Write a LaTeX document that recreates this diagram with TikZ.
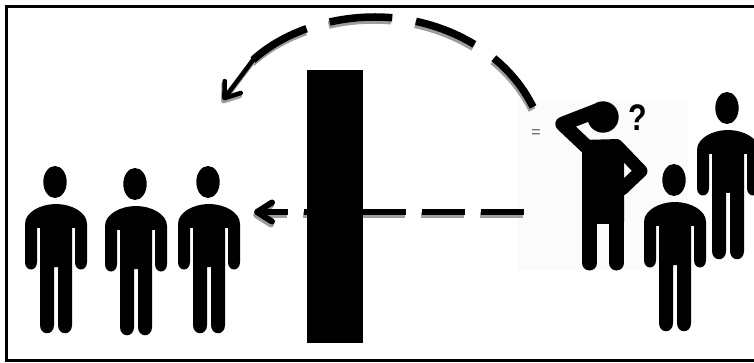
\documentclass[tikz,border=0pt]{standalone}
\usepackage{xcolor}
\usepackage{fontspec}
\setmainfont{Liberation Sans}
\usetikzlibrary{arrows.meta,positioning,calc}

\begin{document}
\begin{tikzpicture}[
  x=1pt, y=-1pt,
  frameline/.style={draw, line width=2.6pt},
  barrier/.style={draw=none, fill=black, minimum width=56pt, minimum height=273pt, inner sep=0pt},
  shadowed/.style={draw=black!38, transform canvas={xshift=-1pt, yshift=-3pt}},
  dashline/.style={line width=6pt, dash pattern=on 43pt off 16pt},
  arcline/.style={line width=7.5pt, dash pattern=on 63pt off 24pt},
  tipline/.style={line width=4.5pt, line cap=round,
    -{Straight Barb[length=14pt, width=20pt, round]}},
  tipline2/.style={line width=6pt,
    -{Straight Barb[length=15pt, width=19pt, round]}},
  limb/.style={line width=#1, line cap=round, line join=round},
  pics/person/.style={code={
    \fill (0,0) ellipse [x radius=11.7, y radius=16];
    \fill (-30,42) .. controls (-30,30) and (-14,22) .. (1,22)
      .. controls (16,22) and (32,30) .. (32,42) -- (32,80)
      .. controls (32,90) and (20,90) .. (20,80) -- (20,46) -- (17,46) -- (17,143)
      .. controls (17,154) and (3,154) .. (3,143) -- (3,85) -- (-1,85) -- (-1,143)
      .. controls (-1,154) and (-15,154) .. (-15,143) -- (-15,46) -- (-18,46) -- (-18,80)
      .. controls (-18,90) and (-30,90) .. (-30,80) -- cycle;
  }},
]
\useasboundingbox (0,0) rectangle (754,363);
\fill[white] (0,0) rectangle (754,363);

% figure that asks
\fill[black!1.5] (518,100) rectangle (688,270);
\fill (603,117) circle [radius=15.7];
\draw[limb=14.5pt] (596,111) -- (562.5,124) -- (588,148);
\fill[rounded corners=2pt] (582,140) -- (620,139) -- (624,150) -- (624,224) -- (582,224) -- cycle;
\draw[limb=13pt] (617,146) -- (641,171) -- (622,189);
\draw[limb=15pt] (589.5,220) -- (589.5,263);
\draw[limb=15pt] (616.5,220) -- (616.5,263);
\node[font=\fontsize{37}{37}\selectfont\bfseries, xscale=0.82, inner sep=0pt] (ask) at (637.5,118) {?};
\node[font=\fontsize{16}{16}\selectfont, text=black!65, inner sep=0pt] (eq) at (536,134) {=};

% the people
\pic (p1) at (55,182) {person};
\pic (p2) at (135,184) {person};
\pic (p3) at (208,182) {person};
\pic (p4) at (674,180) {person};
\pic (p5) at (727,108) {person};

\coordinate (lineR) at (523.5,212);
\coordinate (lineM) at (287,212);
\coordinate (lineL) at (254,212);
\coordinate (arcR) at (533,107);
\coordinate (arcM) at (375,17);
\coordinate (arcL) at (253,60);
\coordinate (arcT) at (223,100);

% grey copies first
\draw[dashline, shadowed] (lineR) -- (lineM);
\draw[tipline2, shadowed] (lineM) -- (lineL);
\draw[arcline, shadowed] (arcR) .. controls (505,50) and (440,17) .. (arcM)
  .. controls (325,17) and (280,35) .. (arcL);
\draw[tipline, shadowed] (arcL) -- (arcT);

\draw[dashline] (lineR) -- (lineM);
\draw[tipline2] (lineM) -- (lineL);
\draw[arcline] (arcR) .. controls (505,50) and (440,17) .. (arcM)
  .. controls (325,17) and (280,35) .. (arcL);
\draw[tipline] (arcL) -- (arcT);

\node[barrier] (wall) at (335,206.5) {};

\draw[frameline] (754,6.5) -- (6.5,6.5) -- (6.5,360.5) -- (754,360.5);
\end{tikzpicture}
\end{document}
